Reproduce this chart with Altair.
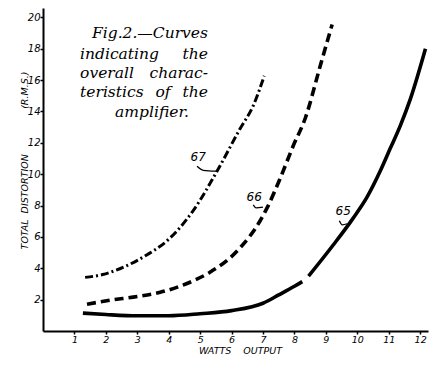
import altair as alt
import pandas as pd

# Curve 65 (solid), with a small break near 8.3 W
x65 = [1.27, 2.0, 3.0, 4.0, 5.0, 6.0, 7.0, 7.5, 8.0, 8.25, 8.45, 9.24, 9.87, 10.3, 10.73, 11.05, 11.37, 11.69, 12.17]
y65 = [1.14, 1.05, 0.97, 0.97, 1.1, 1.3, 1.77, 2.3, 2.85, 3.15, 3.5, 5.5, 7.2, 8.5, 10.2, 11.65, 13.1, 14.8, 18.0]
seg65 = ["a"] * 10 + ["b"] * 9

# Curve 66 (dashed)
x66 = [1.4, 2.13, 3.0, 3.73, 4.78, 5.3, 6.27, 6.9, 7.13, 7.55, 7.96, 8.35, 8.82, 9.2]
y66 = [1.71, 1.96, 2.2, 2.47, 3.2, 3.73, 5.3, 7.0, 7.85, 9.75, 11.8, 13.6, 16.9, 19.55]

# Curve 67 (dash-dot)
x67 = [1.34, 1.9, 2.67, 3.3, 3.95, 4.78, 5.54, 6.27, 6.69, 7.04]
y67 = [3.42, 3.6, 4.17, 4.85, 5.76, 7.68, 10.2, 12.9, 14.37, 16.27]

# Curve labels
lab_text = ["67", "66", "65"]
lab_x = [4.94, 6.72, 9.55]
lab_y = [11.08, 8.54, 7.66]

# Leader strokes from labels to curves
lead_id = ["67", "67", "67", "66", "66", "66", "65", "65", "65"]
lead_x = [4.9, 5.1, 5.51, 6.69, 6.78, 7.0, 9.43, 9.52, 9.68]
lead_y = [10.5, 10.25, 10.19, 8.04, 7.85, 7.9, 7.03, 6.77, 6.84]

# Caption block
cap_text = ["Fig.2.\u2014Curves", "indicating", "the", "overall", "charac-",
            "teristics", "of", "the", "amplifier."]
cap_x = [5.25, 1.18, 5.25, 1.18, 5.25, 1.18, 3.82, 5.25, 3.47]
cap_y = [19.0, 17.66, 17.66, 16.45, 16.45, 15.25, 15.25, 15.25, 13.97]
cap_align = ["right", "left", "right", "left", "right", "left", "center", "right", "center"]

x_ticks = [1, 2, 3, 4, 5, 6, 7, 8, 9, 10, 11, 12]
y_ticks = [2, 4, 6, 8, 10, 12, 14, 16, 18, 20]

x_title = "WATTS\u00a0\u00a0\u00a0 OUTPUT"
y_title = "TOTAL\u00a0 DISTORTION" + "\u00a0" * 14 + " (R.M.S.)"

d65 = pd.DataFrame({"x": x65, "y": y65, "seg": seg65})
d66 = pd.DataFrame({"x": x66, "y": y66})
d67 = pd.DataFrame({"x": x67, "y": y67})
dlab = pd.DataFrame({"x": lab_x, "y": lab_y, "t": lab_text})
dlead = pd.DataFrame({"x": lead_x, "y": lead_y, "id": lead_id})
dcap = pd.DataFrame({"x": cap_x, "y": cap_y, "t": cap_text, "a": cap_align})

xs = alt.Scale(domain=[0, 12.25], nice=False, zero=False)
ys = alt.Scale(domain=[0, 20.6], nice=False, zero=False)

xaxis = alt.Axis(
    values=x_ticks, tickCount=12, title=x_title, grid=False, labelOverlap=False,
    tickSize=3, labelPadding=0, labelFontSize=9.5, titleX=197, titleY=19.5,
    titleBaseline="middle", titleAnchor="start", titleAlign="center")
yaxis = alt.Axis(
    values=y_ticks, tickCount=10, title=y_title, grid=False, labelOverlap=False,
    tickSize=3, labelPadding=0, titleAngle=-90, titleX=-19, titleY=152,
    titleBaseline="middle", titleAlign="center", titleAnchor="start")


def X():
    return alt.X("x:Q", scale=xs, axis=xaxis)


def Y():
    return alt.Y("y:Q", scale=ys, axis=yaxis)


line65 = alt.Chart(d65).mark_line(color="black", strokeWidth=3.6, interpolate="monotone").encode(
    x=X(), y=Y(), detail="seg:N")
line66 = alt.Chart(d66).mark_line(color="black", strokeWidth=3.6, strokeDash=[9, 5],
                                  interpolate="monotone").encode(x=X(), y=Y())
line67 = alt.Chart(d67).mark_line(color="black", strokeWidth=3, strokeDash=[8, 3, 2, 3],
                                  interpolate="monotone").encode(x=X(), y=Y())

labels = alt.Chart(dlab).mark_text(font="DejaVu Sans", fontSize=12, fontStyle="italic",
                                   color="black").encode(x=X(), y=Y(), text="t:N")
leaders = alt.Chart(dlead).mark_line(color="black", strokeWidth=1.3,
                                     interpolate="monotone").encode(x=X(), y=Y(), detail="id:N")

cap_layers = []
for al in ["left", "right", "center"]:
    cap_layers.append(
        alt.Chart(dcap).transform_filter(alt.datum.a == al).mark_text(
            font="DejaVu Serif", fontSize=15.5, fontStyle="italic", align=al,
            baseline="middle", color="black").encode(x=X(), y=Y(), text="t:N"))

chart = alt.layer(line65, line66, line67, leaders, labels, *cap_layers).properties(
    width=385, height=323,
    autosize=alt.AutoSizeParams(type="none"),
    padding={"left": 35, "top": 0, "right": 4, "bottom": 26},
).configure_view(stroke=None).configure_axis(
    domainColor="black", domainWidth=2, tickColor="black", tickWidth=1.5,
    labelColor="black", titleColor="black", labelFont="DejaVu Sans",
    labelFontStyle="italic", labelFontSize=10, labelFontWeight="normal",
    titleFont="DejaVu Sans", titleFontStyle="italic", titleFontSize=9.5,
    titleFontWeight="normal", labelOverlap=False
)

chart.save("out.html", embed_options={"renderer": "svg", "actions": False})
